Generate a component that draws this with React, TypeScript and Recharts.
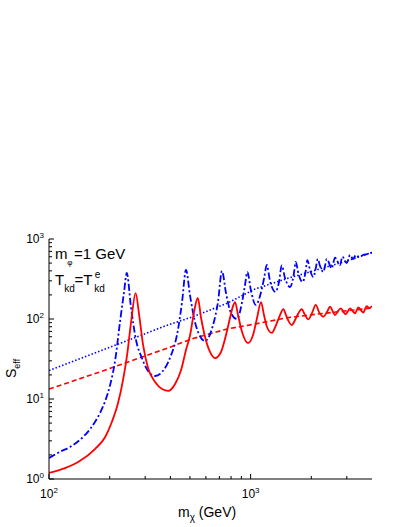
import React from "react";
import { LineChart, Line, XAxis, YAxis } from "recharts";

const font = "'Liberation Sans', Arial, sans-serif";

// axis ticks
const mxTicks = [100, 200, 300, 400, 500, 600, 700, 800, 900, 1000, 2000, 3000];
const mxLabelled = [100, 1000];
const sTicks = [
  1, 2, 3, 4, 5, 6, 7, 8, 9, 10, 20, 30, 40, 50, 60, 70, 80, 90, 100, 200, 300,
  400, 500, 600, 700, 800, 900, 1000,
];
const sLabelled = [1, 10, 100, 1000];

// [m_chi (GeV), S_eff]
const redSolid: [number, number][] = [
  [100, 1.19], [120, 1.37], [142, 1.68], [169, 2.37], [190, 3.35], [205, 5.16],
  [220, 8.9], [233, 17.3], [244, 35.5], [255, 89], [269, 211], [280, 112],
  [293, 47], [310, 24.4], [336, 16.3], [364, 13.3], [391, 12.6], [422, 15.4],
  [452, 23], [478, 41], [501, 63], [524, 122], [547, 183], [568, 103], [594, 60],
  [629, 38.7], [666, 32.5], [713, 38.7], [755, 63], [790, 103], [818, 145],
  [837, 163], [866, 112], [907, 68.8], [971, 50], [1028, 63], [1076, 103],
  [1126, 163], [1165, 112], [1206, 79.4], [1273, 67], [1337, 84], [1399, 112],
  [1453, 133], [1498, 112], [1550, 92], [1599, 84], [1661, 97], [1728, 119],
  [1793, 133], [1851, 115], [1933, 99], [2017, 119], [2104, 150], [2185, 122],
  [2294, 107], [2393, 122], [2477, 143], [2563, 122], [2622, 112], [2713, 126],
  [2808, 136], [2889, 122], [2963, 115], [3042, 126], [3113, 136], [3203, 126],
  [3295, 118], [3371, 131], [3421, 140], [3528, 128], [3623, 120], [3694, 133],
  [3766, 145], [3867, 137], [4000, 145],
];

const redDashed: [number, number][] = [
  [100, 13.3], [179, 21.8], [376, 42.2], [518, 57], [764, 75], [1052, 86.6],
  [1533, 104], [2262, 117], [3295, 130], [4000, 137],
];

const blueDashDot: [number, number][] = [
  [100, 1.83], [113, 2.18], [127, 2.51], [142, 3.07], [160, 4.22], [169, 5.16],
  [179, 6.68], [190, 9.44], [201, 15], [213, 30.7], [225, 92], [236, 224], [243, 376],
  [255, 141], [270, 55], [289, 32.5], [310, 22.4], [336, 19.4], [364, 21.8],
  [398, 32.5], [436, 73], [457, 163], [478, 410], [501, 194], [536, 82],
  [594, 53], [651, 84], [689, 163], [721, 398], [755, 211], [799, 119],
  [856, 100], [907, 163], [938, 266], [963, 387], [1005, 224], [1060, 150],
  [1139, 244], [1172, 345], [1202, 473], [1248, 299], [1329, 218], [1383, 290],
  [1427, 467], [1481, 325], [1568, 251], [1633, 345], [1674, 516], [1728, 365],
  [1813, 290], [1872, 387], [1911, 546], [1971, 410], [2046, 335], [2106, 434],
  [2152, 562], [2210, 460], [2294, 387], [2344, 473], [2385, 562], [2525, 430],
  [2622, 584], [2777, 473], [2851, 601], [2997, 501], [3113, 631], [3221, 562],
  [3333, 631], [3449, 596], [3610, 631], [3780, 649], [4000, 678],
];

const blueDotted: [number, number][] = [
  [100, 22.7], [179, 39.8], [376, 81.7], [518, 107], [764, 157], [1052, 237],
  [1533, 323], [2262, 430], [3295, 574], [4000, 678],
];

const toRows = (pts: [number, number][]) => pts.map(([m, s]) => ({ m, s }));

const exponent = (v: number) => String(Math.round(Math.log10(v)));

const BottomTick = (props: any) => {
  const { x, y, payload } = props;
  const major = mxLabelled.includes(payload.value);
  return (
    <g>
      <line x1={x} y1={y} x2={x} y2={y - (major ? 5 : 3)} stroke="#000" />
      {major && (
        <text x={x} y={y + 19} textAnchor="middle" fontSize={12} fontFamily={font} fill="#000">
          10
          <tspan dy={-5} fontSize={8}>
            {exponent(payload.value)}
          </tspan>
        </text>
      )}
    </g>
  );
};

const TopTick = (props: any) => {
  const { x, y, payload } = props;
  const major = mxLabelled.includes(payload.value);
  return <line x1={x} y1={y} x2={x} y2={y + (major ? 5 : 3)} stroke="#000" />;
};

const LeftTick = (props: any) => {
  const { x, y, payload } = props;
  const major = sLabelled.includes(payload.value);
  return (
    <g>
      <line x1={x} y1={y} x2={x + (major ? 5 : 3)} y2={y} stroke="#000" />
      {major && (
        <text x={x - 5} y={y + 4} textAnchor="end" fontSize={12} fontFamily={font} fill="#000">
          10
          <tspan dy={-5} fontSize={8}>
            {exponent(payload.value)}
          </tspan>
        </text>
      )}
    </g>
  );
};

const RightTick = (props: any) => {
  const { x, y, payload } = props;
  const major = sLabelled.includes(payload.value);
  return <line x1={x} y1={y} x2={x - (major ? 5 : 3)} y2={y} stroke="#000" />;
};

export default function App() {
  return (
    <div style={{ position: "absolute", left: 0, top: 0, width: 407, height: 527, background: "#fff" }}>
      <LineChart width={407} height={527} margin={{ top: 239, right: 35, bottom: 0, left: 0 }}>
        <XAxis
          xAxisId="bottom"
          dataKey="m"
          type="number"
          scale="log"
          domain={[100, 4000]}
          allowDataOverflow
          ticks={mxTicks}
          interval={0}
          tick={<BottomTick />}
          tickLine={false}
          tickSize={0}
          tickMargin={0}
          height={48}
          axisLine={{ stroke: "#000" }}
        />
        <XAxis
          xAxisId="top"
          orientation="top"
          dataKey="m"
          type="number"
          scale="log"
          domain={[100, 4000]}
          allowDataOverflow
          ticks={mxTicks}
          interval={0}
          tick={<TopTick />}
          tickLine={false}
          tickSize={0}
          tickMargin={0}
          height={0}
          axisLine={{ stroke: "#000" }}
        />
        <YAxis
          yAxisId="left"
          type="number"
          scale="log"
          domain={[1, 1000]}
          allowDataOverflow
          ticks={sTicks}
          interval={0}
          tick={<LeftTick />}
          tickLine={false}
          tickSize={0}
          tickMargin={0}
          width={49}
          axisLine={{ stroke: "#000" }}
        />
        <YAxis
          yAxisId="right"
          orientation="right"
          type="number"
          scale="log"
          domain={[1, 1000]}
          allowDataOverflow
          ticks={sTicks}
          interval={0}
          tick={<RightTick />}
          tickLine={false}
          tickSize={0}
          tickMargin={0}
          width={0}
          axisLine={{ stroke: "#000" }}
        />
        <Line
          xAxisId="bottom"
          yAxisId="left"
          data={toRows(blueDotted)}
          dataKey="s"
          type="linear"
          stroke="#0000ff"
          strokeWidth={1.6}
          strokeDasharray="1.5 2"
          dot={false}
          isAnimationActive={false}
        />
        <Line
          xAxisId="bottom"
          yAxisId="left"
          data={toRows(redDashed)}
          dataKey="s"
          type="linear"
          stroke="#ff0000"
          strokeWidth={1.6}
          strokeDasharray="5 3"
          dot={false}
          isAnimationActive={false}
        />
        <Line
          xAxisId="bottom"
          yAxisId="left"
          data={toRows(blueDashDot)}
          dataKey="s"
          type="monotone"
          stroke="#0000ff"
          strokeWidth={1.8}
          strokeDasharray="7 2.5 2 2.5"
          dot={false}
          isAnimationActive={false}
        />
        <Line
          xAxisId="bottom"
          yAxisId="left"
          data={toRows(redSolid)}
          dataKey="s"
          type="monotone"
          stroke="#ff0000"
          strokeWidth={1.8}
          dot={false}
          isAnimationActive={false}
        />
      </LineChart>
      <svg
        width={407}
        height={527}
        style={{ position: "absolute", left: 0, top: 0, pointerEvents: "none" }}
        fontFamily={font}
        fill="#000"
      >
        <text fontSize={15}>
          <tspan x={55} y={258.5}>m</tspan>
          <tspan x={67.3} y={265} fontSize={8}>φ</tspan>
          <tspan x={74} y={258.5}>=1 GeV</tspan>
        </text>
        <text fontSize={15}>
          <tspan x={55} y={285}>T</tspan>
          <tspan x={64.3} y={292} fontSize={10}>kd</tspan>
          <tspan x={74.5} y={285}>=T</tspan>
          <tspan x={94.8} y={278} fontSize={10}>e</tspan>
          <tspan x={94.2} y={292} fontSize={10}>kd</tspan>
        </text>
        <text transform="translate(15.5,378) rotate(-90)" fontSize={14}>
          S
          <tspan dy={4} fontSize={9}>eff</tspan>
        </text>
        <text x={178} y={516.5} fontSize={14}>
          m
          <tspan dy={4} fontSize={10}>χ</tspan>
          <tspan dy={-4}> (GeV)</tspan>
        </text>
      </svg>
    </div>
  );
}
